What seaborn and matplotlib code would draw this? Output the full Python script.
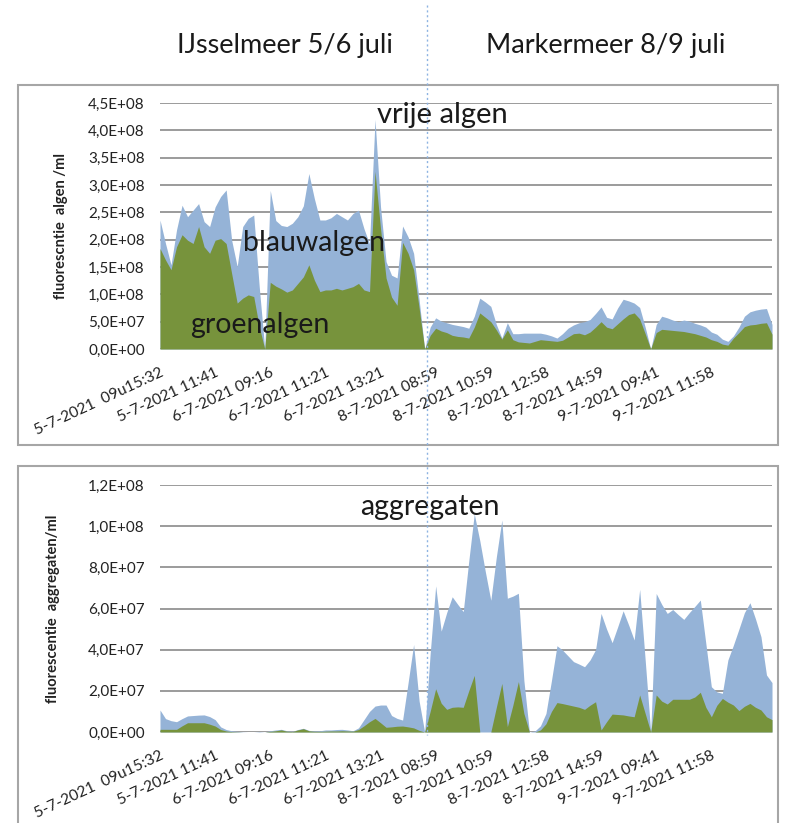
import matplotlib
matplotlib.use("Agg")
import matplotlib.pyplot as plt
import seaborn as sns
import numpy as np
from matplotlib.patches import Rectangle
from matplotlib.lines import Line2D

sns.set_theme(style="white")
plt.rcParams['font.family'] = ['Lato', 'DejaVu Sans']

# x-as: een label per 10 metingen
tick_labels = ["5-7-2021  09u15:32", "5-7-2021 11:41", "6-7-2021 09:16",
               "6-7-2021 11:21", "6-7-2021 13:21", "8-7-2021 08:59",
               "8-7-2021 10:59", "8-7-2021 12:58", "8-7-2021 14:59",
               "9-7-2021 09:41", "9-7-2021 11:58"]
label_step = 10

# vrije algen, bovenrand totaal en groenalgen (x 1E8 per ml)
vrij_totaal = [2.36, 1.93, 1.54, 2.18, 2.63, 2.42, 2.54, 2.66, 2.33, 2.24,
               2.60, 2.79, 2.91, 1.99, 1.51, 2.24, 2.39, 2.45, 1.14, 0.00,
               2.90, 2.35, 2.26, 2.24, 2.30, 2.42, 2.62, 3.21, 2.75, 2.36,
               2.36, 2.40, 2.48, 2.42, 2.36, 2.48, 2.54, 2.20, 1.92, 4.20,
               2.60, 1.60, 1.35, 1.30, 2.25, 2.05, 1.75, 0.90, 0.00, 0.40,
               0.57, 0.51, 0.48, 0.45, 0.43, 0.41, 0.38, 0.60, 0.93, 0.86,
               0.78, 0.45, 0.20, 0.48, 0.28, 0.28, 0.29, 0.29, 0.29, 0.29,
               0.27, 0.24, 0.20, 0.28, 0.38, 0.44, 0.48, 0.50, 0.54, 0.65,
               0.77, 0.58, 0.55, 0.75, 0.91, 0.88, 0.84, 0.76, 0.40, 0.00,
               0.45, 0.60, 0.57, 0.53, 0.50, 0.53, 0.51, 0.47, 0.44, 0.40,
               0.31, 0.27, 0.18, 0.14, 0.24, 0.40, 0.60, 0.68, 0.71, 0.73,
               0.74, 0.45]
vrij_groen = [1.84, 1.63, 1.45, 1.87, 2.09, 1.99, 1.93, 2.24, 1.87, 1.75,
              1.99, 2.02, 1.93, 1.38, 0.84, 0.93, 0.99, 0.96, 0.41, 0.00,
              1.22, 1.15, 1.10, 1.04, 1.08, 1.20, 1.32, 1.54, 1.26, 1.05,
              1.08, 1.08, 1.11, 1.08, 1.11, 1.14, 1.20, 1.08, 1.05, 3.25,
              2.20, 1.30, 0.95, 0.80, 1.95, 1.75, 1.45, 0.75, 0.00, 0.25,
              0.38, 0.33, 0.30, 0.25, 0.23, 0.22, 0.20, 0.40, 0.66, 0.58,
              0.50, 0.35, 0.18, 0.35, 0.17, 0.13, 0.12, 0.11, 0.14, 0.17,
              0.16, 0.15, 0.14, 0.16, 0.22, 0.28, 0.29, 0.26, 0.31, 0.40,
              0.50, 0.40, 0.37, 0.46, 0.55, 0.63, 0.66, 0.55, 0.28, 0.00,
              0.30, 0.36, 0.35, 0.34, 0.33, 0.32, 0.30, 0.28, 0.25, 0.22,
              0.17, 0.14, 0.09, 0.07, 0.20, 0.30, 0.41, 0.44, 0.45, 0.47,
              0.48, 0.27]

# aggregaten, bovenrand totaal en groenalgen (x 1E7 per ml)
aggr_totaal = [1.07, 0.65, 0.55, 0.50, 0.65, 0.78, 0.80, 0.82, 0.83, 0.75,
               0.60, 0.25, 0.12, 0.06, 0.03, 0.01, 0.00, 0.00, 0.02, 0.00,
               0.06, 0.10, 0.13, 0.06, 0.03, 0.12, 0.18, 0.08, 0.05, 0.06,
               0.10, 0.10, 0.12, 0.13, 0.10, 0.06, 0.20, 0.60, 1.00, 1.26,
               1.31, 1.31, 0.80, 0.66, 0.58, 2.40, 4.25, 1.50, 0.00, 3.80,
               7.10, 4.90, 5.80, 6.57, 6.20, 5.85, 8.30, 10.60, 9.30, 7.80,
               6.40, 8.50, 10.30, 6.50, 6.60, 6.74, 2.50, 0.00, 0.05, 0.30,
               0.90, 2.50, 4.19, 3.98, 3.70, 3.42, 3.30, 3.17, 3.50, 4.00,
               5.76, 5.00, 4.34, 5.10, 5.89, 5.20, 4.47, 6.93, 3.50, 0.00,
               6.73, 6.20, 5.76, 5.95, 5.70, 5.47, 5.80, 6.10, 6.41, 4.30,
               2.20, 1.95, 1.88, 3.50, 4.22, 5.00, 5.80, 6.28, 5.50, 4.63,
               2.77, 2.40]
aggr_groen = [0.13, 0.13, 0.13, 0.13, 0.30, 0.45, 0.45, 0.45, 0.45, 0.38,
              0.29, 0.12, 0.05, 0.02, 0.01, 0.00, 0.00, 0.00, 0.00, 0.00,
              0.03, 0.06, 0.10, 0.04, 0.02, 0.10, 0.16, 0.06, 0.03, 0.03,
              0.04, 0.05, 0.05, 0.06, 0.05, 0.04, 0.12, 0.30, 0.50, 0.66,
              0.45, 0.23, 0.25, 0.28, 0.29, 0.25, 0.20, 0.08, 0.00, 1.00,
              2.10, 1.40, 1.10, 1.20, 1.22, 1.20, 2.00, 2.75, 0.00, 0.00,
              0.00, 1.20, 2.36, 0.26, 1.30, 2.45, 0.90, 0.00, 0.00, 0.10,
              0.40, 1.00, 1.43, 1.38, 1.32, 1.26, 1.20, 1.10, 1.30, 1.47,
              0.10, 0.50, 0.87, 0.85, 0.83, 0.78, 0.74, 1.80, 0.90, 0.00,
              1.80, 1.50, 1.36, 1.59, 1.59, 1.59, 1.59, 1.70, 1.93, 1.20,
              0.74, 1.30, 1.63, 1.45, 1.31, 1.04, 1.25, 1.39, 1.20, 1.07,
              0.74, 0.60]

blauw = '#95B3D7'
groen = '#77933C'
W, H = 787, 823


def sci_comma(v, pos):
    return f"{v:.1E}".replace('.', ',')


def panel(ax, totaal, groenalg, scale, ymax, ystep, ylabel, lab_x):
    x = np.arange(len(totaal))
    ax.fill_between(x, 0, np.array(totaal) * scale, color=blauw, lw=0, zorder=2)
    ax.fill_between(x, 0, np.array(groenalg) * scale, color=groen, lw=0, zorder=3)
    ax.set_xlim(0, len(totaal) - 1)
    ax.set_ylim(0, ymax)
    ax.set_yticks(np.arange(0, ymax + ystep / 2, ystep))
    ax.yaxis.set_major_formatter(plt.FuncFormatter(sci_comma))
    ax.grid(axis='y', color='#8a8a8a', lw=1.2, zorder=1)
    ax.set_axisbelow(True)
    sns.despine(ax=ax, left=True, bottom=True, top=True, right=True)
    ax.set_xticks(np.arange(len(tick_labels)) * label_step)
    ax.set_xticklabels(tick_labels, rotation=25, ha='right',
                       rotation_mode='anchor', fontsize=11.2, color='#222222')
    ax.tick_params(axis='both', length=0)
    ax.tick_params(axis='x', pad=12)
    ax.tick_params(axis='y', pad=11, labelsize=11, labelcolor='#222222')
    ax.set_ylabel(ylabel, fontsize=10.5, fontweight='bold', color='#222222')
    ax.yaxis.set_label_coords(lab_x, 0.5)
    ax.patch.set_alpha(0)


fig = plt.figure(figsize=(W / 100, H / 100), dpi=100)

# kaders rond de grafieken
fig.patches.append(Rectangle((18 / W, 1 - 445 / H), 760 / W, 360 / H,
                             transform=fig.transFigure, fill=False,
                             ec='#a6a6a6', lw=1.5))
fig.patches.append(Rectangle((18 / W, -0.02), 760 / W, 1 - 466 / H + 0.02,
                             transform=fig.transFigure, fill=False,
                             ec='#a6a6a6', lw=1.5))

ax1 = fig.add_axes([160 / W, 1 - 349 / H, 612 / W, 246 / H])
ax2 = fig.add_axes([160 / W, 1 - 732 / H, 612 / W, 247 / H])

panel(ax1, vrij_totaal, vrij_groen, 1e8, 4.5e8, 0.5e8,
      "fluorescntie  algen /ml", -0.150)
panel(ax2, aggr_totaal, aggr_groen, 1e7, 1.2e8, 2e7,
      "fluorescentie  aggregaten/ml", -0.163)

ax1.text(0.462, 0.951, "vrije algen", transform=ax1.transAxes,
         ha='center', va='center', fontsize=21, color='#1a1a1a', zorder=5)
ax1.text(0.252, 0.43, "blauwalgen", transform=ax1.transAxes,
         ha='center', va='center', fontsize=20.5, color='#1a1a1a', zorder=5)
ax1.text(0.163, 0.098, "groenalgen", transform=ax1.transAxes,
         ha='center', va='center', fontsize=20.5, color='#1a1a1a', zorder=5)
ax2.text(0.441, 0.91, "aggregaten", transform=ax2.transAxes,
         ha='center', va='center', fontsize=20.5, color='#1a1a1a', zorder=5)

fig.text(285 / W, 1 - 45 / H, "IJsselmeer 5/6 juli", ha='center', va='center',
         fontsize=19.5, color='#1a1a1a')
fig.text(606 / W, 1 - 45 / H, "Markermeer 8/9 juli", ha='center', va='center',
         fontsize=19.5, color='#1a1a1a')

# scheiding IJsselmeer / Markermeer
fig.add_artist(Line2D([427 / W, 427 / W], [1 - 5 / H, 1 - 735 / H],
                      transform=fig.transFigure, color='#8db3e2',
                      lw=1, ls=(0, (1.5, 2)), zorder=10))

fig.savefig("out.png", dpi=100)
